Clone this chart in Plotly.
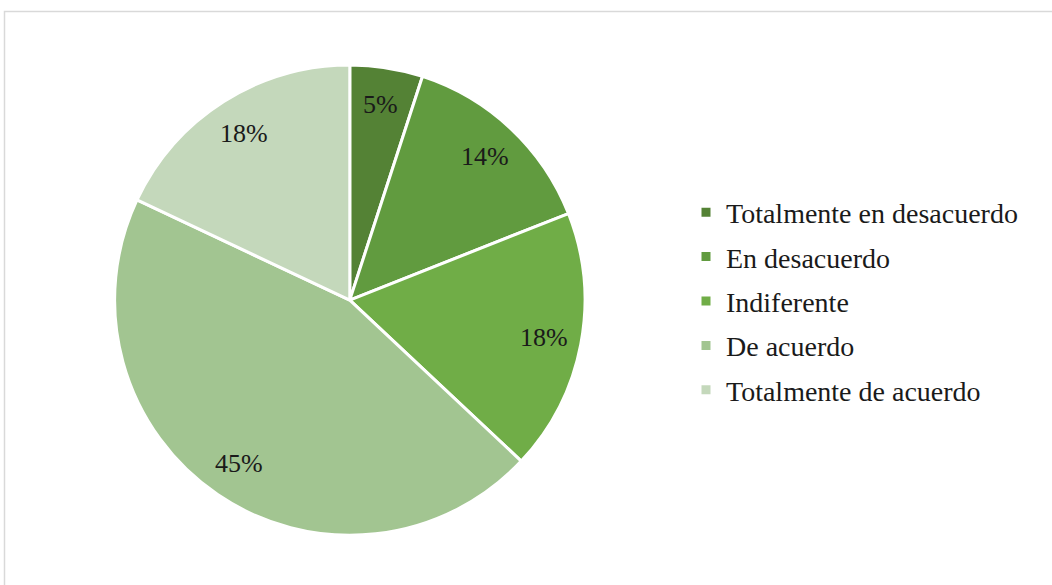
import math
import plotly.graph_objects as go

# Survey response distribution (percent of respondents)
categories = [
    "Totalmente en desacuerdo",
    "En desacuerdo",
    "Indiferente",
    "De acuerdo",
    "Totalmente de acuerdo",
]
percentages = [5, 14, 18, 45, 18]
slice_colors = ["#548235", "#619b3f", "#70ad47", "#a2c591", "#c4d8bb"]

W, H = 1052, 585
FONT = "Liberation Serif, Times New Roman, serif"

# Pie placement (paper fractions)
dom_x = [0.0465, 0.6185]
dom_y = [0.085, 0.889]
LABEL_RADIUS = 0.84  # data labels sit out toward the rim (fraction of radius)

fig = go.Figure()

fig.add_trace(go.Pie(
    labels=categories,
    values=percentages,
    sort=False,
    direction="clockwise",
    rotation=0,
    marker=dict(colors=slice_colors, line=dict(color="white", width=3)),
    textinfo="none",
    hoverinfo="label+percent",
    showlegend=False,
    domain=dict(x=dom_x, y=dom_y),
))

# Percentage labels placed along each slice's mid-angle
cx = (dom_x[0] + dom_x[1]) / 2 * W
cy = (dom_y[0] + dom_y[1]) / 2 * H
radius = min((dom_x[1] - dom_x[0]) * W, (dom_y[1] - dom_y[0]) * H) / 2
total = sum(percentages)
cum = 0.0
for v in percentages:
    mid = (cum + v / 2) / total * 2 * math.pi
    cum += v
    px = cx + LABEL_RADIUS * radius * math.sin(mid)
    py = cy + LABEL_RADIUS * radius * math.cos(mid)
    fig.add_annotation(
        x=px / W, y=py / H, xref="paper", yref="paper",
        xanchor="center", yanchor="middle",
        text=f"{v}%", showarrow=False,
        font=dict(family=FONT, size=26, color="#1a1a1a"),
    )

# Legend entries (one group each so the row spacing can be set)
for name, color in zip(categories, slice_colors):
    fig.add_trace(go.Scatter(
        x=[None], y=[None], mode="markers", name=name, legendgroup=name,
        marker=dict(symbol="square", size=9, color=color),
        hoverinfo="skip",
    ))

# Chart-area frame
fig.add_shape(
    type="rect", xref="paper", yref="paper",
    x0=4.5 / W, x1=1.02, y0=-0.02, y1=1 - 11.5 / H,
    line=dict(color="#d9d9d9", width=1.5), fillcolor="rgba(0,0,0,0)",
)

fig.update_layout(
    width=W, height=H,
    margin=dict(l=0, r=0, t=0, b=0),
    paper_bgcolor="white", plot_bgcolor="white",
    xaxis=dict(visible=False), yaxis=dict(visible=False),
    legend=dict(
        x=686 / W, xanchor="left", y=1 - 301 / H, yanchor="middle",
        font=dict(family=FONT, size=28, color="#1a1a1a"),
        tracegroupgap=5, itemwidth=30, bgcolor="rgba(0,0,0,0)",
    ),
)

fig.write_html("out.html")
